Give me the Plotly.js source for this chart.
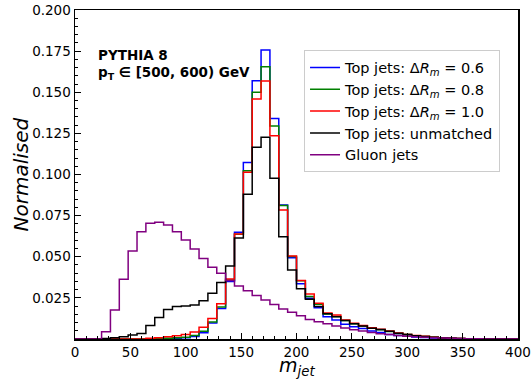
<!DOCTYPE html>
<html>
<head>
<meta charset="utf-8">
<script src="https://cdn.plot.ly/plotly-3.0.1.min.js"></script>
<style>
html,body{margin:0;padding:0;background:#fff;}
#chart{width:531px;height:379px;}
</style>
</head>
<body>
<div id="chart"></div>
<script>
// Bin edges of the m_jet histogram (GeV), 8 GeV bins
const binEdges = [0,8,16,24,32,40,48,56,64,72,80,88,96,104,112,120,128,136,144,152,160,168,176,184,192,200,
  208,216,224,232,240,248,256,264,272,280,288,296,304,312,320,328,336,344,352,360,368,376,384,392,400];

// Normalised bin contents (one per bin, 50 bins)
const top06 = [0,0,0,0,0,0,0,0,0,0.0002,0.0003,0.0004,0.0007,0.0015,0.0038,0.0097,0.0186,0.0350,0.0649,0.1073,
  0.1570,0.1757,0.1340,0.0815,0.0494,0.0336,0.0247,0.0190,0.0136,0.0116,0.0089,0.0075,0.0064,0.0048,0.0039,0.0028,
  0.0022,0.0016,0.0012,0.0009,0.0006,0.0004,0.0003,0.0002,0.0001,0,0,0,0,0];
const top08 = [0,0,0,0,0,0,0,0,0,0.0003,0.0005,0.0008,0.0011,0.0021,0.0047,0.0104,0.0195,0.0358,0.0637,0.1023,
  0.1500,0.1655,0.1295,0.0811,0.0502,0.0354,0.0258,0.0212,0.0152,0.0137,0.0113,0.0093,0.0079,0.0065,0.0056,0.0046,
  0.0034,0.0027,0.0020,0.0015,0.0010,0.0006,0.0004,0.0003,0.0002,0,0,0,0,0];
const top10 = [0,0,0,0,0,0,0,0,0.0004,0.0008,0.0013,0.0019,0.0027,0.0043,0.0072,0.0124,0.0214,0.0365,0.0638,0.1013,
  0.1459,0.1568,0.1236,0.0784,0.0505,0.0356,0.0274,0.0217,0.0158,0.0146,0.0116,0.0096,0.0082,0.0068,0.0060,0.0048,
  0.0036,0.0028,0.0021,0.0016,0.0010,0.0007,0.0004,0.0003,0.0002,0,0,0,0,0];
const topUnmatched = [0,0,0,0.0003,0.0007,0.0014,0.0024,0.0034,0.0082,0.0130,0.0180,0.0197,0.0200,0.0206,0.0233,0.0278,0.0343,0.0444,0.0614,0.0880,
  0.1165,0.1226,0.0977,0.0622,0.0419,0.0306,0.0241,0.0197,0.0153,0.0136,0.0112,0.0093,0.0079,0.0066,0.0057,0.0047,
  0.0035,0.0027,0.0020,0.0015,0.0010,0.0006,0.0004,0.0003,0.0002,0,0,0,0,0];
const gluon = [0,0,0,0.0044,0.0176,0.0363,0.0535,0.0652,0.0703,0.0709,0.0693,0.0652,0.0602,0.0547,0.0490,0.0436,0.0399,0.0355,0.0322,0.0293,
  0.0265,0.0237,0.0210,0.0182,0.0162,0.0142,0.0118,0.0105,0.0093,0.0079,0.0067,0.0056,0.0048,0.0040,0.0032,0.0027,
  0.0022,0.0017,0.0013,0.0010,0.0008,0.0006,0.0004,0.0003,0.0002,0.0001,0,0,0,0];

const seriesNames = [
  'Top jets: Δ<i>R</i><sub><i>m</i></sub> = 0.6',
  'Top jets: Δ<i>R</i><sub><i>m</i></sub> = 0.8',
  'Top jets: Δ<i>R</i><sub><i>m</i></sub> = 1.0',
  'Top jets: unmatched',
  'Gluon jets'
];
const seriesData = [top06, top08, top10, topUnmatched, gluon];
const seriesColors = ['#0000ff', '#008000', '#ff0000', '#000000', '#800080'];

const yTickVals = [0.025,0.05,0.075,0.1,0.125,0.15,0.175,0.2];
const yTickText = ['0.025','0.050','0.075','0.100','0.125','0.150','0.175','0.200'];
const xTickVals = [0,50,100,150,200,250,300,350,400];

const traces = seriesData.map((vals, k) => ({
  type: 'scatter',
  mode: 'lines',
  x: binEdges,
  y: vals.concat([vals[vals.length - 1]]),
  line: {shape: 'hv', color: seriesColors[k], width: 1.5},
  name: seriesNames[k],
  hoverinfo: 'skip'
}));

const font = 'DejaVu Sans, sans-serif';
const layout = {
  width: 531, height: 379,
  margin: {l: 75, r: 13, t: 10, b: 40},
  paper_bgcolor: '#fff', plot_bgcolor: '#fff',
  showlegend: true,
  font: {family: font, color: '#000', size: 14},
  xaxis: {
    range: [0, 400], tickmode: 'array', tickvals: xTickVals,
    ticks: 'inside', ticklen: 6, tickwidth: 1, tickcolor: '#000',
    showline: true, linecolor: '#000', linewidth: 1.5, mirror: true,
    showgrid: false, zeroline: false,
    tickfont: {family: font, size: 13.5, color: '#000'},
    minor: {tickmode: 'linear', tick0: 0, dtick: 10, ticks: 'inside', ticklen: 3, tickcolor: '#000', tickwidth: 1}
  },
  yaxis: {
    range: [0, 0.2], tickmode: 'array', tickvals: yTickVals, ticktext: yTickText,
    ticks: 'inside', ticklen: 6, tickwidth: 1, tickcolor: '#000',
    showline: true, linecolor: '#000', linewidth: 1.5, mirror: true,
    showgrid: false, zeroline: false,
    tickfont: {family: font, size: 13.5, color: '#000'},
    minor: {tickmode: 'linear', tick0: 0, dtick: 0.005, ticks: 'inside', ticklen: 3, tickcolor: '#000', tickwidth: 1}
  },
  legend: {
    x: 0.517, y: 0.877, xanchor: 'left', yanchor: 'top',
    bgcolor: 'rgba(255,255,255,0.9)', bordercolor: '#cccccc', borderwidth: 1,
    font: {family: font, size: 14.5, color: '#000'},
    tracegroupgap: 0
  },
  annotations: [
    {xref: 'paper', yref: 'paper', x: 0.048, y: 0.863, xanchor: 'left', yanchor: 'middle',
     text: '<b>PYTHIA 8</b>', showarrow: false, font: {family: font, size: 13.5, color: '#000'}},
    {xref: 'paper', yref: 'paper', x: 0.048, y: 0.810, xanchor: 'left', yanchor: 'middle',
     text: '<b>p<sub>T</sub> ∈ [500, 600) GeV</b>', showarrow: false, font: {family: font, size: 13.5, color: '#000'}},
    {xref: 'paper', yref: 'paper', x: 0.5, y: -0.083, xanchor: 'center', yanchor: 'middle', borderpad: 0,
     text: '<i>m</i><sub><i>jet</i></sub>', showarrow: false, font: {family: font, size: 19, color: '#000'}},
    {xref: 'paper', yref: 'paper', x: -0.122, y: 0.5, xanchor: 'center', yanchor: 'middle', textangle: -90,
     text: '<i>Normalised</i>', showarrow: false, font: {family: font, size: 20, color: '#000'}}
  ]
};

Plotly.newPlot('chart', traces, layout, {staticPlot: true, displayModeBar: false});
</script>
</body>
</html>
